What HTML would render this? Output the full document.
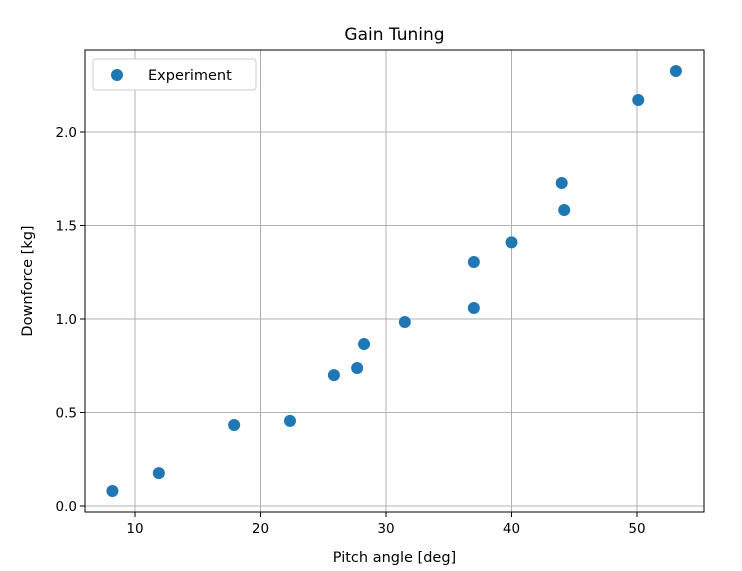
<!DOCTYPE html>
<html><head><meta charset="utf-8"><style>
html,body{margin:0;padding:0;background:#fff;}
svg{display:block;font-family:"DejaVu Sans","Liberation Sans",sans-serif;}
</style></head><body>
<svg id="chart" width="742" height="571" viewBox="0 0 742 571">
<rect x="0" y="0" width="742" height="571" fill="#fff"/>
<text x="394.5" y="40" text-anchor="middle" font-size="17">Gain Tuning</text>
<g id="grid"></g>
<g id="points"></g>
<rect x="85" y="50" width="619" height="462" fill="none" stroke="#000" stroke-width="1"/>
<g id="ticks"></g>
<text x="394.5" y="562" text-anchor="middle" font-size="14.5">Pitch angle [deg]</text>
<text x="32" y="281" text-anchor="middle" font-size="14.5" transform="rotate(-90 32 281)">Downforce [kg]</text>
<g>
<rect x="93" y="59" width="163" height="31" rx="3" fill="#fff" stroke="#ccc"/>
<circle cx="117" cy="75" r="6" fill="#1f77b4"/>
<text x="148" y="80" font-size="14.5">Experiment</text>
</g>
</svg>
<script>
const pitch = [8.2, 11.9, 17.9, 22.35, 25.85, 27.7, 28.25, 31.5, 37.0, 37.0, 40.0, 44.0, 44.2, 50.1, 53.1];
const downforce = [0.08, 0.176, 0.433, 0.455, 0.70, 0.738, 0.866, 0.984, 1.305, 1.059, 1.41, 1.727, 1.583, 2.171, 2.326];
const xTicks = [10, 20, 30, 40, 50];
const yTicks = [0.0, 0.5, 1.0, 1.5, 2.0];
const yTickLabels = ["0.0", "0.5", "1.0", "1.5", "2.0"];

const NS = "http://www.w3.org/2000/svg";
const L = 85, R = 704, T = 50, B = 512;
function xs(v) { return 9.5 + v * 12.55; }
function ys(v) { return 506 - v * 187; }
function mk(tag, attrs, parent) {
  const e = document.createElementNS(NS, tag);
  for (const k in attrs) e.setAttribute(k, attrs[k]);
  parent.appendChild(e);
  return e;
}
const grid = document.getElementById("grid");
const ticks = document.getElementById("ticks");
const pts = document.getElementById("points");
xTicks.forEach(v => {
  const x = xs(v);
  const g = mk("line", {x1: x, x2: x, y1: T, y2: B, stroke: "#b0b0b0", "stroke-width": 1}, grid);
  
  
  const t = mk("line", {x1: x, x2: x, y1: B, y2: B + 5, stroke: "#000"}, ticks);
  
  
  const tx = mk("text", {x: x, y: B + 21, "text-anchor": "middle", "font-size": 13.5}, ticks);
  tx.textContent = String(v);
  
  
});
yTicks.forEach((v, i) => {
  const y = ys(v);
  const g = mk("line", {x1: L, x2: R, y1: y, y2: y, stroke: "#b0b0b0", "stroke-width": 1}, grid);
  
  
  const t = mk("line", {x1: L - 5, x2: L, y1: y, y2: y, stroke: "#000"}, ticks);
  
  
  const tx = mk("text", {x: L - 8, y: y + 5, "text-anchor": "end", "font-size": 13.5}, ticks);
  tx.textContent = yTickLabels[i];
  
  
});
pitch.forEach((p, i) => {
  const c = mk("circle", {cx: xs(p), cy: ys(downforce[i]), r: 6, fill: "#1f77b4"}, pts);
  
  
});
</script>
</body></html>
